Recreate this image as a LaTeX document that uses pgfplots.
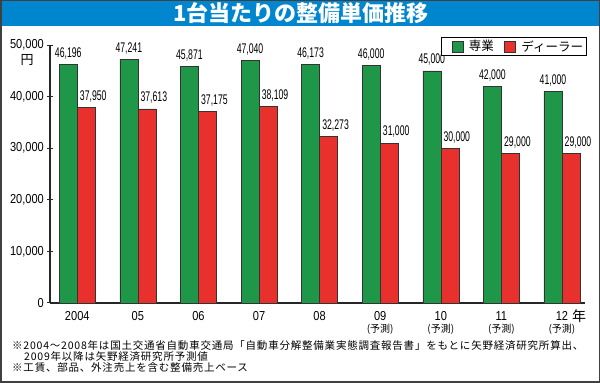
\documentclass[border=0pt]{standalone}
\usepackage{pgfplots}
\pgfplotsset{compat=1.18}
\usepackage{fontspec}
\setmainfont{Liberation Sans}
\newfontfamily\cjk{Noto Sans CJK JP}
\newfontfamily\cjkfn[LetterSpace=7.5]{Noto Sans CJK JP}
\newfontfamily\tickf[FakeStretch=0.85]{Liberation Sans}
\newfontfamily\valf[FakeStretch=0.62]{Liberation Sans}
\definecolor{gbar}{RGB}{30,152,72}
\definecolor{rbar}{RGB}{232,48,44}
\definecolor{tblue}{RGB}{0,134,207}
\newcommand\yosoku{{\cjk\fontsize{10}{10}\selectfont (予測)}}
\begin{document}
\begin{tikzpicture}
\useasboundingbox (0,0) rectangle (600pt,383pt);
\fill[white] (0,0) rectangle (600pt,383pt);
\fill[tblue] (0,357pt) rectangle (600pt,383pt);
\node[text=white,font=\cjk\bfseries\fontsize{22}{22}\selectfont] at (301pt,370pt) {1台当たりの整備単価推移};
\begin{axis}[
 at={(50pt,80pt)}, anchor=south west,
 scale only axis, width=535pt, height=258pt,
 xmin=-0.45, xmax=8.38, ymin=0, ymax=50000,
 axis x line=bottom, axis y line=left,
 axis line style={line width=1.1pt, draw=black!85, -},
 ytick={0,10000,...,50000},
 scaled y ticks=false,
 xtick={0,...,8},
 xticklabels={2004,05,06,07,08,{09\\\yosoku},{10\\\yosoku},{11\\\yosoku},{12\\\yosoku}},
 xtick style={draw=none},
 ytick style={draw=black!85, line width=1pt},
 major tick length=6pt, tick align=center,
 xticklabel style={font=\tickf\fontsize{13}{12}\selectfont, align=center, inner sep=0pt, yshift=-5pt},
 yticklabel style={font=\tickf\fontsize{13}{13}\selectfont, inner sep=0pt, xshift=-3pt},
 /pgf/number format/.cd, 1000 sep={,}, assume math mode=true, /pgfplots/.cd,
 clip=false,
 legend style={at={(1.0037,1.031)}, anchor=north east, legend columns=2, draw=black, line width=0.8pt,
   font=\cjk\fontsize{12.5}{12.5}\selectfont, inner xsep=3pt, inner ysep=2.5pt,
   nodes={inner sep=0.5pt},
   /tikz/every even column/.append style={column sep=3pt},
   /tikz/every odd column/.append style={column sep=5pt}},
 legend image code/.code={\path (0pt,0pt); \draw[#1, line width=0.6pt] (7pt,-5.5pt) rectangle (18pt,5.5pt);},
]
\addplot[ybar, bar width=18pt, bar shift=-9pt, fill=gbar, draw=black!80, line width=0.5pt,
  nodes near coords, nodes near coords style={font=\valf\fontsize{14}{14}\selectfont, text=black, inner sep=0pt, yshift=5pt, xshift=-9pt}]
  coordinates {(0,46196) (1,47241) (2,45871) (3,47040) (4,46173) (5,46000) (6,45000) (7,42000) (8,41000)};
\addlegendentry{専業}
\addplot[ybar, bar width=18pt, bar shift=9pt, fill=rbar, draw=black!80, line width=0.5pt,
  nodes near coords, nodes near coords style={font=\valf\fontsize{14}{14}\selectfont, text=black, inner sep=0pt, yshift=5pt, xshift=16pt}]
  coordinates {(0,37950) (1,37613) (2,37175) (3,38109) (4,32273) (5,31000) (6,30000) (7,29000) (8,29000)};
\addlegendentry{ディーラー}
\end{axis}
\node[font=\cjk\fontsize{13}{13}\selectfont] at (27pt,323pt) {円};
\node[font=\cjk\fontsize{14}{14}\selectfont] at (579pt,67pt) {年};
\node[anchor=west, font=\cjkfn\fontsize{10.5}{10.5}\selectfont, inner sep=0pt] at (12pt,37pt) {※2004～2008年は国土交通省自動車交通局「自動車分解整備業実態調査報告書」をもとに矢野経済研究所算出、};
\node[anchor=west, font=\cjkfn\fontsize{10.5}{10.5}\selectfont, inner sep=0pt] at (24pt,26pt) {2009年以降は矢野経済研究所予測値};
\node[anchor=west, font=\cjkfn\fontsize{10.5}{10.5}\selectfont, inner sep=0pt] at (12pt,15.5pt) {※工賃、部品、外注売上を含む整備売上ベース};
\draw[black!75, line width=1.5pt] (0.75pt,0.75pt) rectangle (599.25pt,382.25pt);
\end{tikzpicture}
\end{document}
